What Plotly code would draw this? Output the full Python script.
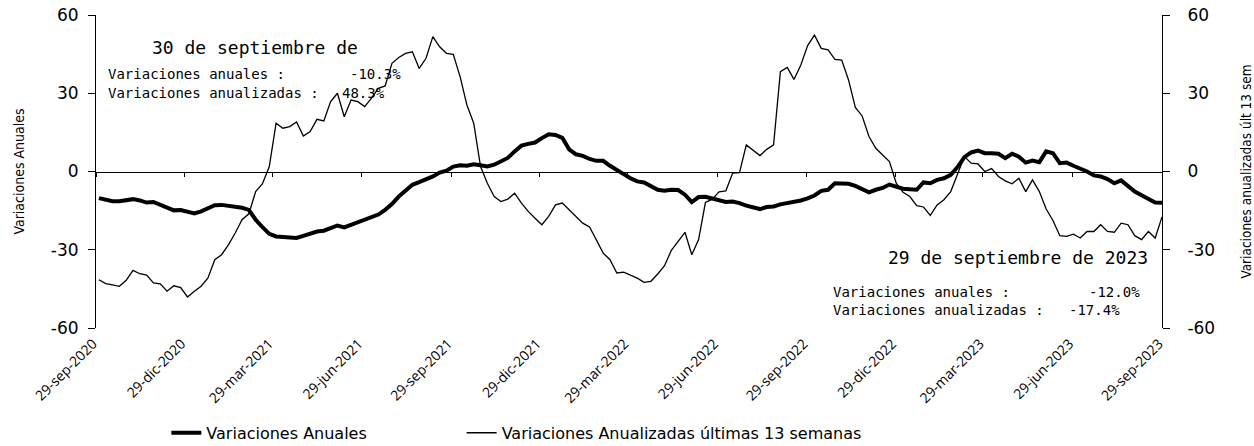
import plotly.graph_objects as go
import pandas as pd

# ---------------- data ----------------
fechas = pd.date_range("2020-10-02", periods=157, freq="7D")

anual = [
    -10.2, -10.8, -11.4, -11.4, -11.1, -10.6, -11.1, -11.9, -11.7, -12.8,
    -14.0, -14.9, -14.8, -15.4, -16.1, -15.3, -14.2, -12.9, -12.8, -13.1,
    -13.6, -13.9, -14.7, -18.5, -21.3, -23.9, -24.9, -25.1, -25.6, -25.5,
    -24.7, -23.9, -23.0, -22.7, -21.7, -20.7, -21.4, -20.4, -19.4, -18.3,
    -17.7, -16.5, -14.7, -12.5, -9.6, -7.4, -5.1, -4.1, -3.2, -1.9,
    -0.4, 0.3, 1.9, 2.4, 2.2, 2.8, 2.4, 1.9, 2.6, 3.8,
    5.2, 7.7, 9.9, 10.6, 11.1, 12.8, 14.3, 14.0, 12.9, 8.5,
    6.6, 6.0, 4.8, 4.1, 4.1, 2.2, 0.4, -1.0, -2.6, -3.8,
    -4.2, -5.4, -7.0, -7.4, -7.0, -7.1, -8.9, -11.7, -9.8, -9.7,
    -10.3, -11.1, -11.7, -11.5, -12.1, -13.1, -13.9, -14.4, -13.6, -13.4,
    -12.6, -12.1, -11.7, -11.1, -10.3, -9.2, -7.4, -7.0, -4.5, -4.7,
    -4.7, -5.5, -6.6, -8.0, -7.0, -6.3, -5.0, -5.7, -6.6, -6.8,
    -7.0, -4.2, -4.5, -3.2, -2.6, -1.3, 1.7, 5.5, 7.3, 8.0,
    7.0, 7.0, 6.8, 5.1, 6.8, 5.7, 3.4, 4.2, 3.6, 7.7,
    7.0, 3.2, 3.4, 2.2, 1.3, 0.0, -1.5, -1.9, -2.9, -4.5,
    -3.4, -5.4, -7.7, -9.1, -10.6, -11.9, -12.0,
]

anualizada = [
    -41.5, -43.0, -43.5, -44.0, -41.7, -37.9, -39.2, -39.7, -42.7, -43.1,
    -45.9, -43.8, -44.5, -48.1, -45.9, -44.0, -40.8, -33.8, -31.9, -28.1,
    -23.6, -18.5, -16.2, -7.7, -4.7, 1.9, 18.5, 16.6, 17.2, 19.0,
    13.6, 15.3, 20.0, 19.4, 26.8, 30.0, 21.0, 27.4, 26.8, 24.9,
    28.1, 31.9, 32.8, 41.5, 43.7, 45.3, 45.9, 39.5, 43.4, 51.7,
    47.8, 45.3, 44.9, 36.4, 25.5, 18.5, 1.9, -4.5, -9.6, -11.5,
    -10.6, -8.3, -12.1, -15.3, -17.9, -20.4, -17.2, -12.8, -12.1, -14.7,
    -17.5, -19.8, -21.3, -26.1, -31.3, -33.8, -38.9, -38.6, -39.7, -40.9,
    -42.5, -42.1, -39.3, -36.1, -30.2, -26.8, -23.3, -31.9, -26.1, -11.9,
    -10.6, -7.8, -7.4, -0.6, -0.4, 10.2, 8.3, 6.1, 8.5, 10.2,
    38.3, 39.9, 35.3, 40.8, 48.3, 52.3, 47.2, 46.6, 43.0, 42.7,
    35.1, 24.6, 21.3, 13.4, 8.9, 6.4, 3.8, -4.5, -8.0, -9.6,
    -13.1, -13.6, -16.8, -12.8, -10.8, -7.7, -0.6, 5.7, 3.2, 2.9,
    0.0, 1.1, -1.9, -3.6, -4.7, -2.6, -7.7, -3.2, -7.7, -14.4,
    -18.8, -24.6, -24.9, -24.0, -25.5, -23.0, -23.0, -20.4, -23.0, -23.3,
    -19.8, -20.4, -24.6, -26.1, -23.0, -25.5, -17.4,
]

tick_fechas = ["2020-09-29", "2020-12-29", "2021-03-29", "2021-06-29", "2021-09-29",
               "2021-12-29", "2022-03-29", "2022-06-29", "2022-09-29", "2022-12-29",
               "2023-03-29", "2023-06-29", "2023-09-29"]
tick_textos = ["29-sep-2020", "29-dic-2020", "29-mar-2021", "29-jun-2021", "29-sep-2021",
               "29-dic-2021", "29-mar-2022", "29-jun-2022", "29-sep-2022", "29-dic-2022",
               "29-mar-2023", "29-jun-2023", "29-sep-2023"]
y_ticks = [-60, -30, 0, 30, 60]
y_textos = ["-60", "-30", "0", "30", "60"]

idx_2022 = 104   # 30-sep-2022
idx_2023 = 156   # 29-sep-2023

# ---------------- figure ----------------
VERD = "DejaVu Sans, Verdana, sans-serif"
MONO = "DejaVu Sans Mono, monospace"
NARROW = "Liberation Sans Narrow, DejaVu Sans Condensed, sans-serif"
TICKF = "Open Sans, Calibri, sans-serif"

fig = go.Figure()
fig.add_trace(go.Scatter(x=fechas, y=anual, name="Variaciones Anuales", mode="lines",
                         line=dict(color="black", width=4), yaxis="y", xaxis="x",
                         legend="legend"))
fig.add_trace(go.Scatter(x=fechas, y=anualizada, name="Variaciones Anualizadas últimas 13 semanas",
                         mode="lines", line=dict(color="black", width=1.3), yaxis="y2", xaxis="x",
                         legend="legend2"))
# invisible helper trace so the zero-crossing axis is drawn
fig.add_trace(go.Scatter(x=fechas, y=anual, mode="lines", line=dict(width=0, color="rgba(0,0,0,0)"),
                         xaxis="x2", yaxis="y", showlegend=False, hoverinfo="skip"))

xr = ["2020-09-29", "2023-09-29"]
legfont = dict(family=VERD, size=16, color="black")

fig.update_layout(
    width=1254, height=446,
    margin=dict(l=96, r=92, t=15, b=118, autoexpand=False),
    paper_bgcolor="white", plot_bgcolor="white",
    showlegend=True,
    legend=dict(orientation="h", x=0.066, xanchor="left", y=-0.335, yanchor="middle",
                font=legfont, bgcolor="rgba(0,0,0,0)"),
    legend2=dict(orientation="h", x=0.343, xanchor="left", y=-0.335, yanchor="middle",
                 font=legfont, bgcolor="rgba(0,0,0,0)"),
    xaxis=dict(range=xr, tickvals=tick_fechas, ticktext=tick_textos, tickangle=-45,
               showline=False, ticks="", showgrid=False, zeroline=False, automargin=False,
               ticklabelshift=-3, ticklabelstandoff=4,
               tickfont=dict(family=TICKF, size=14, color="black")),
    xaxis2=dict(range=xr, overlaying="x", anchor="free", position=0.5, side="bottom",
                tickvals=tick_fechas, showticklabels=False, showline=True, linecolor="black",
                linewidth=1, ticks="outside", ticklen=4, tickcolor="black", showgrid=False,
                zeroline=False, automargin=False),
    yaxis=dict(range=[-60, 60], tickvals=y_ticks, ticktext=y_textos, showline=True,
               linecolor="black", linewidth=1, ticklabeloverflow="allow",
               ticks="outside", ticklen=7, tickcolor="black", showgrid=False, zeroline=False,
               automargin=False, ticklabelstandoff=6,
               tickfont=dict(family=VERD, size=17, color="black"),
               title=dict(text="Variaciones Anuales", font=dict(family=NARROW, size=14, color="black"),
                          standoff=22)),
    yaxis2=dict(range=[-60, 60], tickvals=y_ticks, ticktext=y_textos, overlaying="y", side="right",
                showline=True, linecolor="black", linewidth=1, ticklabeloverflow="allow",
                ticks="outside", ticklen=7, tickcolor="black",
                showgrid=False, zeroline=False, automargin=False, ticklabelstandoff=14,
                tickfont=dict(family=VERD, size=17, color="black"),
                title=dict(text="Variaciones anualizadas últ 13 sem",
                           font=dict(family=NARROW, size=13.5, color="black"), standoff=27)),
)


def ann(text, x, y, xanchor, size, fam=MONO):
    fig.add_annotation(text=text, x=x, y=y, xref="paper", yref="paper", xanchor=xanchor,
                       yanchor="middle", showarrow=False,
                       font=dict(family=fam, size=size, color="black"))


ann("30 de septiembre de", 0.149, 0.895, "center", 18)
ann("Variaciones anuales :", 0.0094, 0.811, "left", 14)
ann(f"{anual[idx_2022]:.1f}%", 0.288, 0.811, "right", 14)
ann("Variaciones anualizadas :", 0.0094, 0.751, "left", 14)
ann(f"{anualizada[idx_2022]:.1f}%", 0.229, 0.751, "left", 14)

ann("29 de septiembre de 2023", 0.865, 0.224, "center", 18)
ann("Variaciones anuales :", 0.6895, 0.115, "left", 14)
ann(f"{anual[idx_2023]:.1f}%", 0.981, 0.115, "right", 14)
ann("Variaciones anualizadas :", 0.6895, 0.0575, "left", 14)
ann(f"{anualizada[idx_2023]:.1f}%", 0.9625, 0.0575, "right", 14)

# remove the default page margin so the figure sits at the window's top-left corner
fig.write_html("out.html", config={"displayModeBar": False},
               post_script="document.body.style.margin='0';document.body.style.overflow='hidden';")
